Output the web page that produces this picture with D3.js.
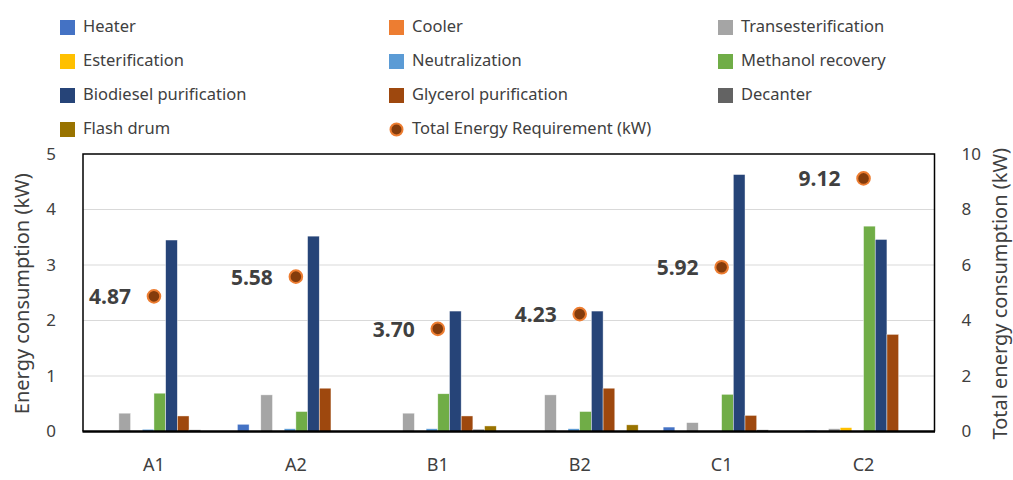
<!DOCTYPE html>
<html>
<head>
<meta charset="utf-8">
<script src="https://cdn.jsdelivr.net/npm/d3@7"></script>
<style>
  html, body { margin: 0; padding: 0; background: #fff; }
  svg { display: block; font-family: "Noto Sans", "Open Sans", sans-serif; }
</style>
</head>
<body>
<svg id="chart" width="1013" height="480"></svg>
<script>
// Process configurations
const categories = ["A1", "A2", "B1", "B2", "C1", "C2"];

// Energy consumption per unit (kW), one array per unit, ordered as categories
const heater        = [0.00, 0.13, 0.00, 0.00, 0.08, 0.02];
const cooler        = [0.00, 0.00, 0.00, 0.01, 0.00, 0.00];
const transest      = [0.33, 0.66, 0.33, 0.66, 0.16, 0.05];
const esterif       = [0.00, 0.00, 0.00, 0.00, 0.00, 0.07];
const neutral       = [0.04, 0.05, 0.05, 0.05, 0.01, 0.00];
const methanolRec   = [0.69, 0.36, 0.68, 0.36, 0.67, 3.70];
const biodieselPur  = [3.45, 3.52, 2.17, 2.17, 4.63, 3.46];
const glycerolPur   = [0.28, 0.78, 0.28, 0.78, 0.29, 1.75];
const decanter      = [0.03, 0.00, 0.04, 0.00, 0.03, 0.00];
const flashDrum     = [0.00, 0.00, 0.10, 0.12, 0.00, 0.00];

// Total energy requirement (kW), right axis
const totalEnergy = [4.87, 5.58, 3.70, 4.23, 5.92, 9.12];

const seriesNames = ["Heater", "Cooler", "Transesterification", "Esterification",
  "Neutralization", "Methanol recovery", "Biodiesel purification",
  "Glycerol purification", "Decanter", "Flash drum"];
const seriesValues = [heater, cooler, transest, esterif, neutral, methanolRec,
  biodieselPur, glycerolPur, decanter, flashDrum];
const seriesColors = ["#4472c4", "#ed7d31", "#a5a5a5", "#ffc000", "#5b9bd5",
  "#70ad47", "#264478", "#9e480e", "#636363", "#997300"];

const leftTicks = [0, 1, 2, 3, 4, 5];
const rightTicks = [0, 2, 4, 6, 8, 10];
const totalLabel = "Total Energy Requirement (kW)";

const svg = d3.select("#chart");
const plot = { left: 83, right: 934.5, top: 154, bottom: 431.5 };

const x0 = d3.scaleBand().domain(categories)
  .range([plot.left, plot.right]).paddingInner(0.176).paddingOuter(0.088);
const x1 = d3.scaleBand().domain(seriesNames).range([0, x0.bandwidth()]).padding(0);
const y = d3.scaleLinear().domain([0, 5]).range([plot.bottom, plot.top]);
const y2 = d3.scaleLinear().domain([0, 10]).range([plot.bottom, plot.top]);

const textColor = "#404040";

// gridlines
svg.append("g")
  .selectAll("line").data(leftTicks.filter(t => t > 0 && t < 5)).join("line")
  .attr("x1", plot.left).attr("x2", plot.right)
  .attr("y1", d => y(d)).attr("y2", d => y(d))
  .attr("stroke", "#d9d9d9").attr("stroke-width", 1.2);

// bars
const rows = categories.map((c, i) => ({ cat: c, i }));
const groups = svg.append("g").selectAll("g").data(rows).join("g")
  .attr("transform", d => `translate(${x0(d.cat)},0)`);
groups.selectAll("rect")
  .data(d => seriesNames.map((s, k) => ({ s, k, v: seriesValues[k][d.i] })))
  .join("rect")
  .filter(d => d.v > 0)
  .attr("x", d => x1(d.s))
  .attr("width", x1.bandwidth())
  .attr("y", d => y(d.v))
  .attr("height", d => y(0) - y(d.v))
  .attr("fill", d => seriesColors[d.k])
  .attr("stroke", "#ffffff").attr("stroke-width", 0.6).attr("stroke-opacity", 0.7);

// frame
svg.append("path")
  .attr("d", `M${plot.left},${plot.bottom}V${plot.top}H${plot.right}V${plot.bottom}`)
  .attr("fill", "none").attr("stroke", "#000").attr("stroke-width", 1.5);
svg.append("line")
  .attr("x1", plot.left - 0.5).attr("x2", plot.right + 0.5)
  .attr("y1", plot.bottom).attr("y2", plot.bottom)
  .attr("stroke", "#000").attr("stroke-width", 2.5);

// axes
const leftAxis = svg.append("g").attr("transform", `translate(${plot.left},0)`)
  .call(d3.axisLeft(y).tickValues(leftTicks).tickSize(0).tickPadding(27).tickFormat(d3.format("d")));
const rightAxis = svg.append("g").attr("transform", `translate(${plot.right},0)`)
  .call(d3.axisRight(y2).tickValues(rightTicks).tickSize(0).tickPadding(27).tickFormat(d3.format("d")));
const bottomAxis = svg.append("g").attr("transform", `translate(0,${plot.bottom})`)
  .call(d3.axisBottom(x0).tickSize(0).tickPadding(27));
[leftAxis, rightAxis].forEach(a => {
  a.select(".domain").remove();
  a.selectAll("text").attr("fill", textColor).style("font-size", "17px")
    .style("font-family", "'Noto Sans', sans-serif");
});
bottomAxis.select(".domain").remove();
bottomAxis.selectAll("text").attr("fill", textColor).style("font-size", "18px")
  .style("font-family", "'Noto Sans', sans-serif");

// axis titles
svg.append("text")
  .attr("transform", `translate(21,${(plot.top + plot.bottom) / 2 + 1}) rotate(-90)`)
  .attr("text-anchor", "middle").attr("dominant-baseline", "central")
  .attr("fill", textColor).style("font-size", "20px")
  .text("Energy consumption (kW)");
svg.append("text")
  .attr("transform", `translate(999,${(plot.top + plot.bottom) / 2 + 1}) rotate(-90)`)
  .attr("text-anchor", "middle").attr("dominant-baseline", "central")
  .attr("fill", textColor).style("font-size", "20px")
  .text("Total energy consumption (kW)");

// total energy markers with labels
const totals = categories.map((c, i) => ({ c, v: totalEnergy[i] }));
svg.append("g").selectAll("circle").data(totals).join("circle")
  .attr("cx", d => x0(d.c) + x0.bandwidth() / 2)
  .attr("cy", d => y2(d.v))
  .attr("r", 6.3)
  .attr("fill", "#843c0c").attr("stroke", "#ed7d31").attr("stroke-width", 2);
svg.append("g").selectAll("text").data(totals).join("text")
  .attr("x", d => x0(d.c) + x0.bandwidth() / 2 - 23)
  .attr("y", d => y2(d.v))
  .attr("text-anchor", "end").attr("dominant-baseline", "central")
  .attr("fill", textColor).style("font-size", "21px").style("font-weight", "bold")
  .text(d => d3.format(".2f")(d.v));

// legend
const legendItems = seriesNames.map((s, k) => ({ name: s, color: seriesColors[k], type: "bar" }))
  .concat([{ name: totalLabel, type: "dot" }]);
const legend = svg.append("g").selectAll("g").data(legendItems).join("g")
  .attr("transform", (d, i) => `translate(${60 + (i % 3) * 329},${25 + Math.floor(i / 3) * 34})`);
legend.filter(d => d.type === "bar").append("rect")
  .attr("x", 0).attr("y", -5).attr("width", 15).attr("height", 15)
  .attr("fill", d => d.color);
legend.filter(d => d.type === "dot").append("circle")
  .attr("cx", 7.5).attr("cy", 2.5).attr("r", 6)
  .attr("fill", "#843c0c").attr("stroke", "#ed7d31").attr("stroke-width", 2);
legend.append("text")
  .attr("x", 23).attr("y", 0).attr("dominant-baseline", "central")
  .attr("fill", textColor).style("font-size", "16.5px")
  .text(d => d.name);
</script>
</body>
</html>
